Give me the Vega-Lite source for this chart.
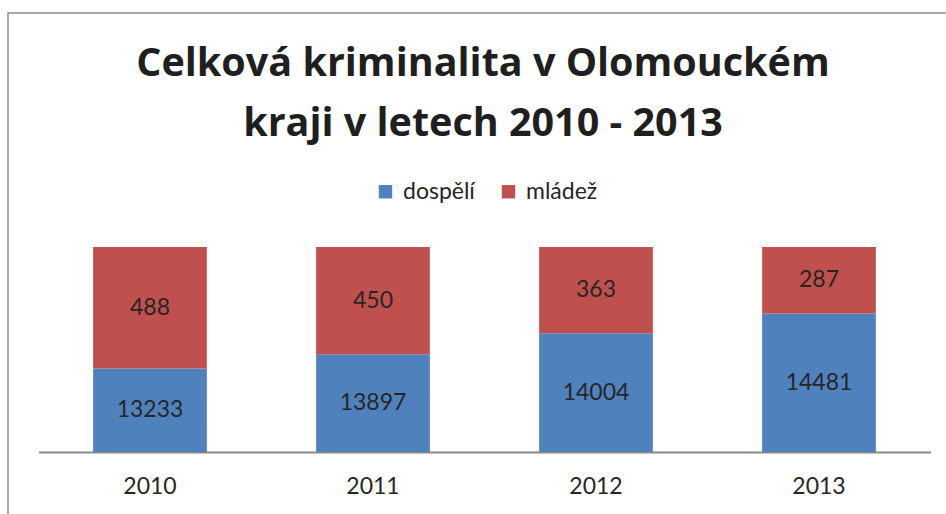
{
  "$schema": "https://vega.github.io/schema/vega-lite/v6.json",
  "autosize": "none",
  "width": 950,
  "height": 511,
  "padding": {"left": 8, "top": 13, "right": 0, "bottom": 0},
  "background": "white",
  "config": {
    "view": {"stroke": "#8c8c8c", "strokeWidth": 1.5},
    "font": "Lato"
  },
  "title": {
    "text": ["Celková kriminalita v Olomouckém", "kraji v letech 2010 - 2013"],
    "font": "Open Sans",
    "fontSize": 39.5,
    "fontWeight": "bold",
    "color": "#1f1f1f",
    "anchor": "middle",
    "frame": "group",
    "offset": -131,
    "lineHeight": 60
  },
  "data": {
    "values": [
      {"year": "2010", "series": "dospělí", "value": 13233},
      {"year": "2010", "series": "mládež", "value": 488},
      {"year": "2011", "series": "dospělí", "value": 13897},
      {"year": "2011", "series": "mládež", "value": 450},
      {"year": "2012", "series": "dospělí", "value": 14004},
      {"year": "2012", "series": "mládež", "value": 363},
      {"year": "2013", "series": "dospělí", "value": 14481},
      {"year": "2013", "series": "mládež", "value": 287}
    ]
  },
  "transform": [
    {"stack": "value", "groupby": ["year"], "sort": [{"field": "series", "order": "ascending"}], "offset": "normalize", "as": ["y0", "y1"]},
    {"calculate": "(max(datum.y0, 0.94) + datum.y1) / 2", "as": "mid"}
  ],
  "encoding": {
    "x": {
      "field": "year",
      "type": "ordinal",
      "scale": {"range": [30.5, 922.5], "paddingInner": 0.49, "paddingOuter": 0.245},
      "axis": {
        "title": null,
        "labelAngle": 0,
        "ticks": false,
        "domainColor": "#898989",
        "domainWidth": 2,
        "labelFontSize": 23,
        "labelColor": "#262626",
        "labelPadding": 23,
        "offset": -72
      }
    }
  },
  "layer": [
    {
      "mark": {"type": "bar"},
      "encoding": {
        "y": {"field": "y0", "type": "quantitative", "scale": {"domain": [0.94, 1], "range": [439, 234], "clamp": true, "zero": false}, "axis": null},
        "y2": {"field": "y1"},
        "color": {
          "field": "series",
          "type": "nominal",
          "scale": {"domain": ["dospělí", "mládež"], "range": ["#4F81BD", "#C0504D"]},
          "legend": {
            "orient": "none",
            "legendX": 366,
            "legendY": 167,
            "direction": "horizontal",
            "title": null,
            "symbolType": "square",
            "symbolSize": 180,
            "symbolOpacity": 1,
            "symbolStrokeWidth": 0,
            "labelFontSize": 23,
            "labelColor": "#262626",
            "labelOffset": 6,
            "columnPadding": 22
          }
        }
      }
    },
    {
      "mark": {"type": "text", "fontSize": 23, "color": "#262626"},
      "encoding": {
        "y": {"field": "mid", "type": "quantitative"},
        "text": {"field": "value", "type": "quantitative", "format": "d"}
      }
    }
  ]
}
